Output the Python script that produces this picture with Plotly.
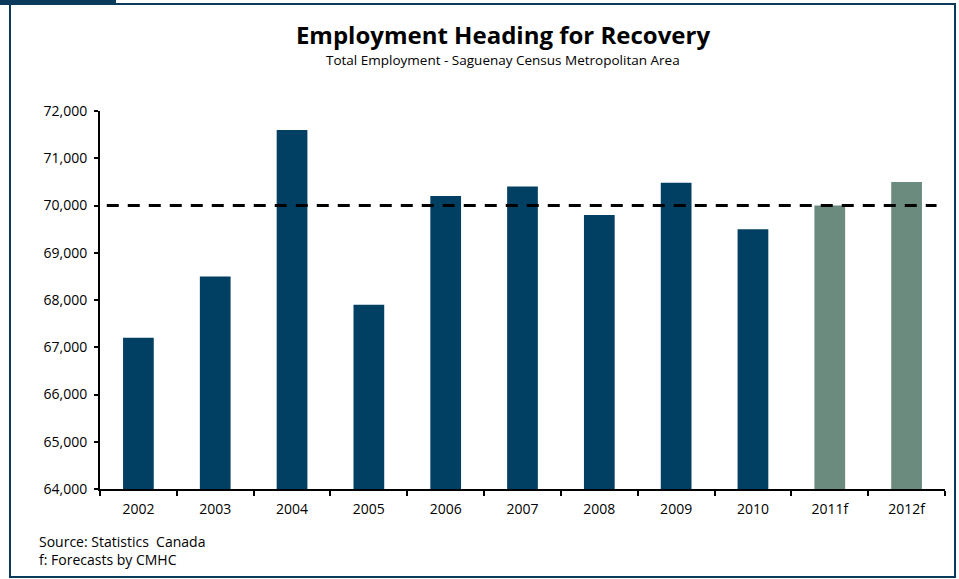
import plotly.graph_objects as go

years = ["2002", "2003", "2004", "2005", "2006", "2007", "2008", "2009", "2010", "2011f", "2012f"]
employment = [67200, 68500, 71600, 67900, 70200, 70400, 69800, 70480, 69500, 70000, 70500]
is_forecast = [False] * 9 + [True] * 2
reference_level = 70000
y_ticks = [64000, 65000, 66000, 67000, 68000, 69000, 70000, 71000, 72000]

NAVY = "#024063"
GREEN = "#6B8B7E"
colors = [GREEN if f else NAVY for f in is_forecast]

fig = go.Figure()
fig.add_trace(go.Bar(x=years, y=employment, marker=dict(color=colors, line=dict(width=0)),
                     width=0.4, showlegend=False))

fig.add_shape(type="line", xref="paper", yref="y", x0=0.008, x1=0.99,
              y0=reference_level, y1=reference_level,
              line=dict(color="black", width=3, dash="12px,9px"))

# frame
fig.add_shape(type="rect", xref="paper", yref="paper",
              x0=(10 - 100) / 845, x1=(955 - 100) / 845,
              y0=(489 - 577) / 378, y1=(489 - 4) / 378,
              line=dict(color="#0B3B5C", width=2), layer="below")
fig.add_shape(type="rect", xref="paper", yref="paper",
              x0=(0 - 100) / 845, x1=(116 - 100) / 845,
              y0=(489 - 5) / 378, y1=(489 + 2) / 378,
              line=dict(width=0), fillcolor="#0B3B5C")

FONT = "'Open Sans', Lato, sans-serif"
fig.update_layout(
    width=959, height=579,
    margin=dict(l=100, r=14, t=111, b=90),
    paper_bgcolor="white", plot_bgcolor="white",
    font=dict(family=FONT, color="black", size=14),
    title=dict(
        text="<b>Employment Heading for Recovery</b>",
        x=(503) / 959, xanchor="center", y=1 - 36 / 579, yanchor="middle",
        font=dict(size=24, color="black", family=FONT),
    ),
    xaxis=dict(
        type="category", showgrid=False, showline=True, linecolor="black", linewidth=2,
        ticks="outside", ticklen=5, tickwidth=2, tickcolor="black", tickson="boundaries",
        tickfont=dict(size=14, color="black"), ticklabelstandoff=6,
    ),
    yaxis=dict(
        range=[64000, 72000], tickvals=y_ticks, tickformat=",d",
        showgrid=False, showline=True, linecolor="black", linewidth=2,
        ticks="outside", ticklen=4, tickwidth=2, tickcolor="black",
        tickfont=dict(size=14, color="black"), zeroline=False, fixedrange=True,
        ticklabelstandoff=4,
    ),
    annotations=[
        dict(text="Total Employment - Saguenay Census Metropolitan Area", xref="paper", yref="paper",
             x=(503 - 100) / 845, y=(489 - 60) / 378, xanchor="center", yanchor="middle",
             showarrow=False, font=dict(size=13.5, color="black")),
        dict(text="Source: Statistics  Canada<br>f: Forecasts by CMHC", xref="paper", yref="paper",
             x=(37 - 100) / 845, y=(489 - 530) / 378, xanchor="left", yanchor="top", align="left",
             showarrow=False, font=dict(size=14, color="black")),
    ],
)

fig.write_html("out.html")
